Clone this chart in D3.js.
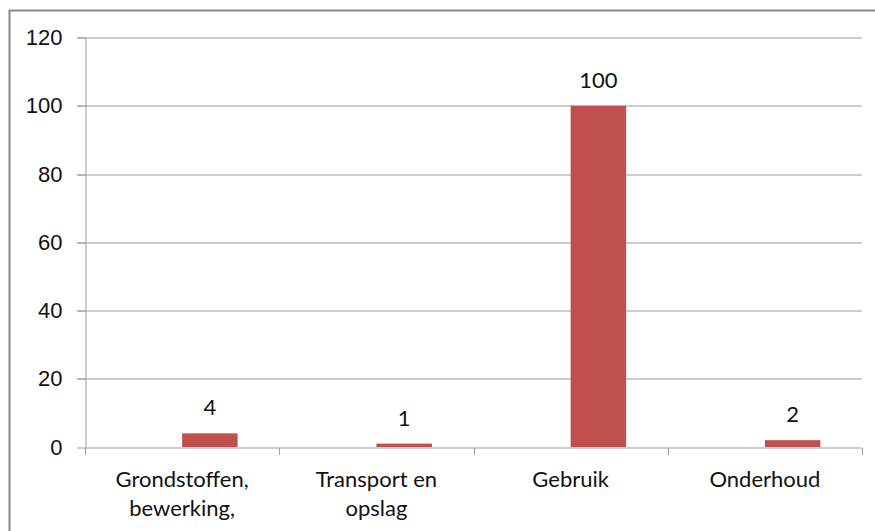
<!DOCTYPE html>
<html>
<head>
<meta charset="utf-8">
<script src="https://cdn.jsdelivr.net/npm/d3@7"></script>
<style>
  body { margin: 0; background: #fff; }
  svg { display: block; font-family: Lato, 'Open Sans', sans-serif; }
  .axis text { font-size: 22px; fill: #111; }
  .axis path, .axis line { stroke: #9c9c9c; }
  .grid line { stroke: #9c9c9c; }
</style>
</head>
<body>
<svg id="chart"></svg>
<script>
// categories and values
const categories = [
  ['Grondstoffen,', 'bewerking,'],
  ['Transport en', 'opslag'],
  ['Gebruik'],
  ['Onderhoud'],
];
const values = [4, 1, 100, 2];
const yTicks = [0, 20, 40, 60, 80, 100, 120];
// the chart has an empty first series, the visible bars sit in the second slot
const seriesKeys = ['leeg', 'waarde'];

const width = 875;
const height = 531;
const margin = { top: 37.5, right: 13, bottom: 84, left: 85 };
const innerW = width - margin.left - margin.right;
const innerH = height - margin.top - margin.bottom;

const svg = d3.select('#chart').attr('width', width).attr('height', height);

// outer frame (cut off at right and bottom in the source)
svg.append('rect')
  .attr('x', 9.5).attr('y', 10.5)
  .attr('width', 1000).attr('height', 1000)
  .attr('fill', 'none')
  .attr('stroke', '#878787')
  .attr('stroke-width', 2);

const chart = svg.append('g')
  .attr('transform', `translate(${margin.left},${margin.top})`);

const x0 = d3.scaleBand()
  .domain(d3.range(categories.length))
  .range([0, innerW]);

const x1 = d3.scaleBand()
  .domain(seriesKeys)
  .range([0, x0.bandwidth()])
  .paddingOuter(0.75);

const y = d3.scaleLinear().domain([0, 120]).range([innerH, 0]);

// gridlines
chart.append('g')
  .attr('class', 'grid')
  .selectAll('line')
  .data(yTicks.slice(1))
  .join('line')
  .attr('x1', -8)
  .attr('x2', innerW)
  .attr('y1', d => Math.round(y(d)) + 0.5)
  .attr('y2', d => Math.round(y(d)) + 0.5);

// y axis
const yAxisG = chart.append('g')
  .attr('class', 'axis y-axis')
  .attr('transform', 'translate(0.5,0)')
  .call(d3.axisLeft(y).tickValues(yTicks).tickSize(8).tickSizeOuter(0).tickPadding(15));
yAxisG.selectAll('.tick').attr('transform', d => `translate(0,${Math.round(y(d)) + 0.5})`);

// bars
chart.selectAll('.bar')
  .data(values)
  .join('rect')
  .attr('class', 'bar')
  .attr('x', (d, i) => x0(i) + x1('waarde'))
  .attr('y', d => y(d))
  .attr('width', x1.bandwidth())
  .attr('height', d => y(0) - y(d))
  .attr('fill', '#c0504d');

// value labels
chart.selectAll('.value-label')
  .data(values)
  .join('text')
  .attr('class', 'value-label')
  .attr('x', (d, i) => x0(i) + x1('waarde') + x1.bandwidth() / 2)
  .attr('y', d => y(d) - 18)
  .attr('text-anchor', 'middle')
  .style('font-size', '22px')
  .style('fill', '#111')
  .text(d => d);

// x axis with category boundary ticks
const xAxisG = chart.append('g')
  .attr('class', 'axis x-axis')
  .attr('transform', `translate(0,${Math.round(innerH) + 0.5})`);
xAxisG.append('line')
  .attr('x1', 0).attr('x2', innerW)
  .attr('y1', 0).attr('y2', 0);
xAxisG.selectAll('.xtick')
  .data(d3.range(categories.length + 1))
  .join('line')
  .attr('class', 'xtick')
  .attr('x1', i => Math.round(i * x0.step()) + 0.5)
  .attr('x2', i => Math.round(i * x0.step()) + 0.5)
  .attr('y1', 0).attr('y2', 7);

xAxisG.selectAll('.xlabel')
  .data(categories)
  .join('text')
  .attr('class', 'xlabel')
  .attr('text-anchor', 'middle')
  .attr('transform', (d, i) => `translate(${x0(i) + x0.bandwidth() / 2},39)`)
  .selectAll('tspan')
  .data(d => d)
  .join('tspan')
  .attr('x', 0)
  .attr('y', (d, i) => i * 29)
  .text(d => d);
</script>
</body>
</html>
